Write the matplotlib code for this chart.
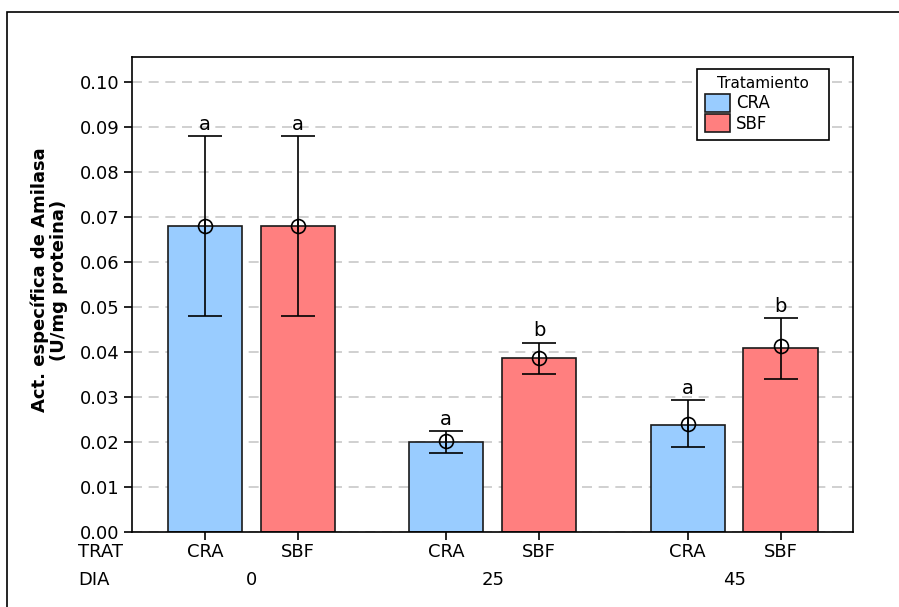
import matplotlib
matplotlib.use("Agg")
import matplotlib.pyplot as plt
from matplotlib.patches import Rectangle, Patch

# Specific amylase activity by treatment and day
dias = ["0", "25", "45"]
trat = ["CRA", "SBF", "CRA", "SBF", "CRA", "SBF"]
medias = [0.068, 0.068, 0.020, 0.0386, 0.0238, 0.0409]
puntos = [0.068, 0.068, 0.0202, 0.0387, 0.0240, 0.0413]
err_inf = [0.048, 0.048, 0.0176, 0.0352, 0.0190, 0.0340]
err_sup = [0.088, 0.088, 0.0224, 0.0421, 0.0293, 0.0476]
letras = ["a", "a", "a", "b", "a", "b"]

COLORES = {"CRA": "#99CCFF", "SBF": "#FF7F7F"}
pos = [0, 1, 2.6, 3.6, 5.2, 6.2]

plt.rcParams["font.family"] = "DejaVu Sans"

fig = plt.figure(figsize=(8.99, 6.07), dpi=100)
ax = fig.add_axes([132 / 899, 1 - 532 / 607, (853 - 132) / 899, (532 - 57) / 607])

# outer frame around the whole graph
fig.patches.append(Rectangle((7 / 899, -0.1), 1.0, 1 - 12 / 607 + 0.1,
                             transform=fig.transFigure, fill=False,
                             edgecolor="black", linewidth=1.2))

ax.set_axisbelow(True)
ax.yaxis.grid(True, linestyle=(0, (6, 4)), color="#c8c8c8", linewidth=1.2)

for x, m, p, lo, hi, t, l in zip(pos, medias, puntos, err_inf, err_sup, trat, letras):
    ax.bar(x, m, width=0.8, color=COLORES[t], edgecolor="#1a1a1a", linewidth=1.2)
    ax.errorbar(x, p, yerr=[[p - lo], [hi - p]], fmt="none", ecolor="black",
                elinewidth=1.2, capsize=12, capthick=1.2)
    ax.plot(x, p, marker="o", markersize=10, markerfacecolor="none",
            markeredgecolor="black", markeredgewidth=1.2)
    ax.plot([x, x], [p - 0.0013, p + 0.0013], color="black", linewidth=1.2)
    ax.text(x, hi + 0.0005, l, ha="center", va="bottom", fontsize=14)

ax.set_xlim(-0.785, 6.98)
ax.set_ylim(0, 0.1056)
ax.set_yticks([i / 100 for i in range(11)])
ax.set_yticklabels([f"{i / 100:.2f}" for i in range(11)], fontsize=13)
ax.set_xticks(pos)
ax.set_xticklabels(trat, fontsize=13)
ax.tick_params(axis="both", length=6, width=1.2, color="black")
ax.tick_params(axis="x", pad=2)
ax.tick_params(axis="y", pad=3)
for s in ax.spines.values():
    s.set_linewidth(1.2)

# DIA row and row titles under the axis
for i, d in enumerate(dias):
    xc = (pos[2 * i] + pos[2 * i + 1]) / 2
    ax.text(xc, -0.0107, d, ha="center", va="center", fontsize=13, clip_on=False)
fig.text(78 / 899, 1 - 552 / 607, "TRAT", ha="left", va="center", fontsize=13)
fig.text(78 / 899, 1 - 580 / 607, "DIA", ha="left", va="center", fontsize=13)

fig.text(49 / 899, 1 - 280 / 607, "Act. específica de Amilasa\n(U/mg proteina)",
         rotation=90, ha="center", va="center", fontsize=13, fontweight="bold",
         linespacing=1.1)

handles = [Patch(facecolor=COLORES[k], edgecolor="#1a1a1a", linewidth=1.2) for k in ["CRA", "SBF"]]
leg_x0 = (697 - 132) / 721
leg_w = (829 - 697) / 721
leg_y1 = (532 - 69) / 475
leg = ax.legend(handles, ["CRA", "SBF"], title="Tratamiento", loc="upper left",
                bbox_to_anchor=(leg_x0, leg_y1 - 0.2, leg_w, 0.2), mode="expand",
                fontsize=12, title_fontsize=11, frameon=True, fancybox=False,
                edgecolor="black", framealpha=1, handlelength=1.5, handleheight=1.3,
                handletextpad=0.4, borderpad=0.45, labelspacing=0.12, borderaxespad=0)
leg.get_frame().set_linewidth(1.2)

fig.savefig("out.png", dpi=100)
